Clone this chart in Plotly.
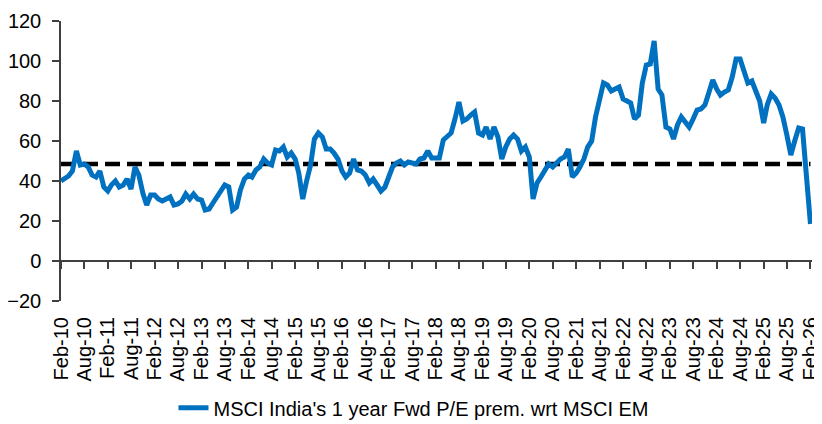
import pandas as pd
import plotly.graph_objects as go

# Monthly dates Feb-2010 .. Feb-2026
dates = pd.date_range("2010-02-01", periods=193, freq="MS")

series_name = "MSCI India's 1 year Fwd P/E prem. wrt MSCI EM"
premium = [
    40, 41, 42.5, 45, 55, 48, 48.5, 47, 43, 42, 45, 37,
    35, 38, 40, 37, 38, 41, 36, 47, 43, 34, 28, 33,
    33, 31, 30, 31, 32, 28, 28.5, 30, 33.5, 31, 33.5, 31,
    30.5, 25.5, 26, 29, 32, 35, 38, 37, 25.5, 27, 35.5, 41,
    43, 42, 45.5, 47, 51, 49, 48, 55.5, 55, 57, 52, 54,
    51, 44, 31, 40, 48, 61, 64, 62, 56, 56, 54, 51,
    45, 42, 44, 51, 45.5, 45, 43, 39, 41, 38, 35, 37,
    43, 47, 49, 50, 48, 49.5, 49, 48.5, 51, 51.5, 55, 51.5,
    51.5, 51.5, 60.5, 62, 64, 71, 79.5, 70, 71, 73, 74.5, 64,
    63, 67, 61, 67, 62, 51, 57, 61, 63, 61, 55, 57,
    52, 31, 39, 42, 45, 48.5, 47, 49, 51, 52, 56, 42,
    44, 47, 51, 57, 60, 72, 81, 89, 88, 85, 86, 87,
    81, 80, 79, 71, 73, 89, 98, 98.5, 110, 86, 83, 67,
    66, 61, 68, 72, 69, 67, 71, 75.5, 76, 78, 84, 90.5,
    86, 83, 84.5, 85.5, 92, 101, 101, 94, 89, 90, 85, 80,
    69, 78, 83.5, 81.5, 78, 72, 63, 53, 60, 66.5, 66, 43,
    18.5,
]
average_value = 48.5
average_line = [average_value] * len(dates)

y_ticks = [-20, 0, 20, 40, 60, 80, 100, 120]

FONT = "Liberation Sans, Arial, sans-serif"
AXIS_COLOR = "#404040"

fig = go.Figure()
fig.add_trace(go.Scatter(
    x=dates, y=average_line, mode="lines", showlegend=False,
    line=dict(color="black", width=4.5, dash="15px,7px"), hoverinfo="skip",
))
fig.add_trace(go.Scatter(
    x=dates, y=premium, mode="lines", name=series_name,
    line=dict(color="#0070C0", width=5),
))
# invisible helper trace so the zero-line axis with ticks is drawn
fig.add_trace(go.Scatter(
    x=dates, y=premium, mode="lines", xaxis="x2", showlegend=False,
    line=dict(color="rgba(0,0,0,0)", width=0), hoverinfo="skip",
))

x_range = ["2010-02-01", "2026-02-13"]

# page has an 8px body margin; figure is sized to fit the 822x424 window
fig.update_layout(
    width=814, height=416,
    margin=dict(l=53, r=10, t=13, b=123, autoexpand=False),
    paper_bgcolor="white", plot_bgcolor="white",
    font=dict(family=FONT, size=20, color="black"),
    xaxis=dict(
        range=x_range, autorange=False, type="date", automargin=False,
        tick0="2010-02-01", dtick="M6", tickformat="%b-%y",
        tickangle=-90, showgrid=False, zeroline=False, showline=False,
        ticks="", ticklabelstandoff=11, ticklabeloverflow="allow",
        tickfont=dict(family=FONT, size=20, color="black"),
    ),
    xaxis2=dict(
        overlaying="x", anchor="free", position=1 / 7,
        range=x_range, autorange=False, automargin=False,
        type="date", tick0="2010-02-01", dtick="M6",
        showticklabels=False, showgrid=False, zeroline=False,
        showline=True, linecolor=AXIS_COLOR, linewidth=1.5,
        ticks="outside", ticklen=7, tickwidth=1.5, tickcolor=AXIS_COLOR,
    ),
    yaxis=dict(
        range=[-20, 120], autorange=False, automargin=False,
        tickvals=y_ticks, showgrid=False, zeroline=False,
        showline=True, linecolor=AXIS_COLOR, linewidth=1.5,
        ticks="outside", ticklen=7, tickwidth=1.5, tickcolor=AXIS_COLOR,
        ticklabelstandoff=7, ticklabeloverflow="allow",
        tickfont=dict(family=FONT, size=20, color="black"),
    ),
    legend=dict(
        orientation="h", x=0.47, xanchor="center", y=-0.312, yanchor="top",
        font=dict(family=FONT, size=20, color="black"),
        bgcolor="rgba(0,0,0,0)",
    ),
    showlegend=True,
)

fig.write_html("out.html")
